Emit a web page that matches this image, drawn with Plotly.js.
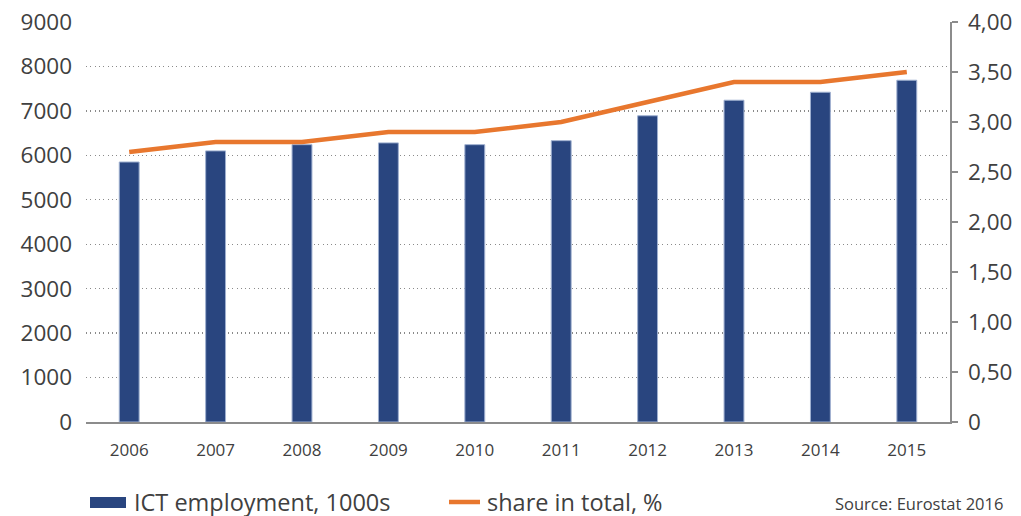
<!DOCTYPE html>
<html>
<head>
<meta charset="utf-8">
<script src="https://cdn.plot.ly/plotly-3.0.1.min.js"></script>
<style>
html,body{margin:0;padding:0;background:#fff;}
#chart{width:1021px;height:516px;}
</style>
</head>
<body>
<div id="chart"></div>
<script>
const years = ['2006','2007','2008','2009','2010','2011','2012','2013','2014','2015'];
const ictEmployment = [5850, 6100, 6240, 6280, 6240, 6330, 6890, 7240, 7420, 7690];
const shareInTotal = [2.7, 2.8, 2.8, 2.9, 2.9, 3.0, 3.2, 3.4, 3.4, 3.5];
const leftTicks = [0,1000,2000,3000,4000,5000,6000,7000,8000,9000];
const rightTicks = [0,0.5,1,1.5,2,2.5,3,3.5,4];
const rightTickLabels = ['0','0,50','1,00','1,50','2,00','2,50','3,00','3,50','4,00'];

const FONT = 'Open Sans, Lato, sans-serif';
const TXT = '#404040';
const BLUE = '#29457f';
const ORANGE = '#e8772e';

const traces = [
  {
    type: 'bar', name: 'ICT employment, 1000s',
    x: years, y: ictEmployment,
    marker: {color: BLUE, line: {color: '#9fb0d0', width: 1}},
    hoverinfo: 'skip', showlegend: false
  },
  {
    type: 'scatter', mode: 'lines', name: 'share in total, %',
    x: years, y: shareInTotal, yaxis: 'y2',
    line: {color: ORANGE, width: 4.5},
    hoverinfo: 'skip', showlegend: false
  }
];

const layout = {
  width: 1021, height: 516,
  margin: {l: 86, r: 71, t: 22, b: 94},
  paper_bgcolor: '#fff', plot_bgcolor: '#fff',
  font: {family: FONT, color: TXT},
  bargap: 0.77,
  showlegend: false,
  xaxis: {
    type: 'category',
    showline: true, linecolor: '#8c8c8c', linewidth: 1.5,
    ticks: '', ticklabelstandoff: 12,
    tickfont: {size: 17, color: TXT},
    showgrid: false, zeroline: false
  },
  yaxis: {
    range: [0, 9000],
    tickvals: leftTicks,
    tickfont: {size: 22.5, color: TXT},
    showgrid: true, gridcolor: '#8a8a8a', griddash: '1px,3.3px', gridwidth: 1.3,
    zeroline: false, showline: false, ticks: '',
    ticklabelstandoff: 13
  },
  yaxis2: {
    overlaying: 'y', side: 'right',
    range: [0, 4],
    tickvals: rightTicks, ticktext: rightTickLabels,
    tickfont: {size: 22.5, color: TXT},
    showgrid: false, zeroline: false,
    showline: true, linecolor: '#8c8c8c', linewidth: 1.5,
    ticks: 'outside', ticklen: 6, tickcolor: '#8c8c8c', tickwidth: 1.5,
    ticklabelstandoff: 6
  },
  shapes: [
    {type: 'rect', xref: 'paper', yref: 'paper',
     x0: (90-86)/864, x1: (126-86)/864, y0: -(497-422)/400, y1: -(508-422)/400,
     fillcolor: BLUE, line: {width: 0}},
    {type: 'line', xref: 'paper', yref: 'paper',
     x0: (449-86)/864, x1: (480-86)/864, y0: -(502-422)/400, y1: -(502-422)/400,
     line: {color: ORANGE, width: 4.5}}
  ],
  annotations: [
    {xref: 'paper', yref: 'paper', x: (132-86)/864, y: -(501.5-422)/400,
     xanchor: 'left', yanchor: 'middle', showarrow: false,
     text: 'ICT employment, 1000s', font: {size: 23.5, color: TXT}},
    {xref: 'paper', yref: 'paper', x: (485-86)/864, y: -(501.5-422)/400,
     xanchor: 'left', yanchor: 'middle', showarrow: false,
     text: 'share in total, %', font: {size: 23.5, color: TXT}},
    {xref: 'paper', yref: 'paper', x: (1005-86)/864, y: -(503-422)/400,
     xanchor: 'right', yanchor: 'middle', showarrow: false,
     text: 'Source: Eurostat 2016', font: {size: 16.5, color: TXT}}
  ]
};

Plotly.newPlot('chart', traces, layout, {displayModeBar: false, staticPlot: true});
</script>
</body>
</html>
